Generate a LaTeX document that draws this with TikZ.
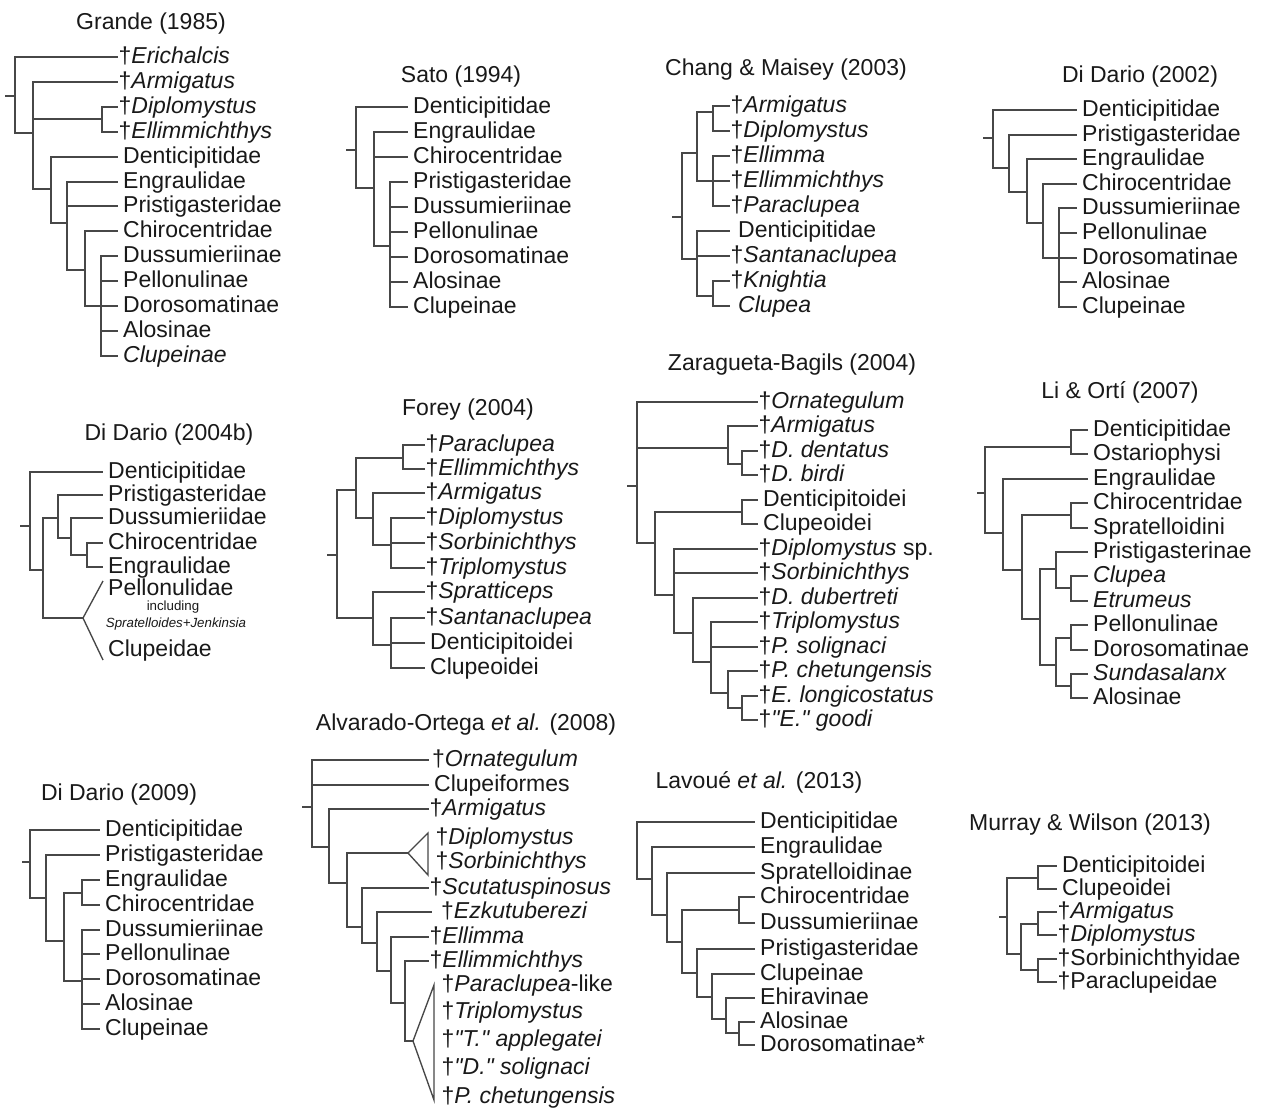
\documentclass[tikz,border=0pt]{standalone}
\usepackage{fontspec}
\setmainfont{Liberation Sans}[Ligatures=TeXOff]
\usetikzlibrary{calc}
\newcommand\lf[4][lf]{\node[#1] (#2) at (#3) {#4};}
\newcommand\kids[2]{\foreach \ch in {#2}{\draw[ln] (#1) |- (\ch);}}
\newcommand\cd[2]{\coordinate (#1) at (#2);}
\newcommand\qd{\symbol{34}}
\begin{document}
\begin{tikzpicture}[x=1pt,y=-1pt,
  every node/.style={text=black!90, font=\fontsize{23}{27}\selectfont},
  lf/.style={anchor=west, inner xsep=0.5pt, inner ysep=0pt, text height=16pt, text depth=4pt},
  lg/.style={lf, inner xsep=5pt},
  lt/.style={lf, inner xsep=0pt},
  tt/.style={inner sep=0pt},
  sm/.style={inner sep=0pt, font=\fontsize{13.3}{15}\selectfont},
  ln/.style={line width=1.35pt, draw=black!72}]
\fill[white] (0,0) rectangle (1267,1109);
\useasboundingbox (0,0) rectangle (1267,1109);

% ---------- Grande (1985)
\node[tt] (t1) at (151,24) {Grande (1985)};
\lf{a1}{118,57}{†\textit{Erichalcis}}
\lf{a2}{118,82}{†\textit{Armigatus}}
\lf{a3}{118,107}{†\textit{Diplomystus}}
\lf{a4}{118,132}{†\textit{Ellimmichthys}}
\lf[lg]{a5}{118,157}{Denticipitidae}
\lf[lg]{a6}{118,182}{Engraulidae}
\lf[lg]{a7}{118,206}{Pristigasteridae}
\lf[lg]{a8}{118,231}{Chirocentridae}
\lf[lg]{a9}{118,256}{Dussumieriinae}
\lf[lg]{a10}{118,281}{Pellonulinae}
\lf[lg]{a11}{118,306}{Dorosomatinae}
\lf[lg]{a12}{118,331}{Alosinae}
\lf[lg]{a13}{118,356}{\textit{Clupeinae}}
\cd{aR}{15,96}\cd{aS}{5,96}\cd{aA}{33,133}\cd{aB}{102,119}\cd{aC}{51,189}\cd{aD}{67,223}\cd{aE}{85,270}\cd{aF}{101,306}
\draw[ln] (aS) -- (aR);
\kids{aR}{a1,aA}\kids{aA}{a2,aB,aC}\kids{aB}{a3,a4}\kids{aC}{a5,aD}\kids{aD}{a6,a7,aE}\kids{aE}{a8,aF}\kids{aF}{a9,a10,a11,a12,a13}

% ---------- Sato (1994)
\node[tt] (t2) at (461,77) {Sato (1994)};
\lf[lg]{b1}{408,107}{Denticipitidae}
\lf[lg]{b2}{408,132}{Engraulidae}
\lf[lg]{b3}{408,157}{Chirocentridae}
\lf[lg]{b4}{408,182}{Pristigasteridae}
\lf[lg]{b5}{408,207}{Dussumieriinae}
\lf[lg]{b6}{408,232}{Pellonulinae}
\lf[lg]{b7}{408,257}{Dorosomatinae}
\lf[lg]{b8}{408,282}{Alosinae}
\lf[lg]{b9}{408,307}{Clupeinae}
\cd{bR}{356,150}\cd{bS}{346,150}\cd{bA}{374,188}\cd{bB}{390,246}
\draw[ln] (bS) -- (bR);
\kids{bR}{b1,bA}\kids{bA}{b2,b3,bB}\kids{bB}{b4,b5,b6,b7,b8,b9}

% ---------- Chang & Maisey (2003)
\node[tt] (t3) at (786,70) {Chang \& Maisey (2003)};
\lf{c1}{730,106}{†\textit{Armigatus}}
\lf{c2}{730,131}{†\textit{Diplomystus}}
\lf{c3}{730,156}{†\textit{Ellimma}}
\lf{c4}{730,181}{†\textit{Ellimmichthys}}
\lf{c5}{730,206}{†\textit{Paraclupea}}
\lf[lg]{c6}{730,231}{\hspace{3pt}Denticipitidae}
\lf{c7}{730,256}{†\textit{Santanaclupea}}
\lf{c8}{730,281}{†\textit{Knightia}}
\lf[lg]{c9}{730,306}{\hspace{3pt}\textit{Clupea}}
\cd{cR}{682,217}\cd{cS}{672,217}\cd{cA}{697,153}\cd{cB}{713,112}\cd{cC}{713,181}\cd{cD}{697,259}\cd{cE}{713,296}
\draw[ln] (cS) -- (cR);
\kids{cR}{cA,cD}\kids{cA}{cB,cC}\kids{cB}{c1,c2}\kids{cC}{c3,c4,c5}\kids{cD}{c6,c7,cE}\kids{cE}{c8,c9}

% ---------- Di Dario (2002)
\node[tt] (t4) at (1140,77) {Di Dario (2002)};
\lf[lg]{d1}{1077,110}{Denticipitidae}
\lf[lg]{d2}{1077,135}{Pristigasteridae}
\lf[lg]{d3}{1077,159}{Engraulidae}
\lf[lg]{d4}{1077,184}{Chirocentridae}
\lf[lg]{d5}{1077,208}{Dussumieriinae}
\lf[lg]{d6}{1077,233}{Pellonulinae}
\lf[lg]{d7}{1077,258}{Dorosomatinae}
\lf[lg]{d8}{1077,282}{Alosinae}
\lf[lg]{d9}{1077,307}{Clupeinae}
\cd{dR}{993,138}\cd{dS}{983,138}\cd{dA}{1009,168}\cd{dB}{1027,192}\cd{dC}{1043,223}\cd{dD}{1059,258}
\draw[ln] (dS) -- (dR);
\kids{dR}{d1,dA}\kids{dA}{d2,dB}\kids{dB}{d3,dC}\kids{dC}{d4,dD}\kids{dD}{d5,d6,d7,d8,d9}

% ---------- Di Dario (2004b)
\node[tt] (t5) at (169,435) {Di Dario (2004b)};
\lf[lg]{e1}{103,472}{Denticipitidae}
\lf[lg]{e2}{103,495}{Pristigasteridae}
\lf[lg]{e3}{103,518}{Dussumieriidae}
\lf[lg]{e4}{103,543}{Chirocentridae}
\lf[lg]{e5}{103,567}{Engraulidae}
\node[lg, text depth=1pt] (e6) at (103,588) {Pellonulidae};
\node[sm] (e7) at (173,607) {including};
\node[sm] (e8) at (176,624) {\textit{Spratelloides+Jenkinsia}};
\lf[lg]{e9}{103,650}{Clupeidae}
\cd{eR}{30,526}\cd{eS}{20,526}\cd{eA}{43,570}\cd{eB}{58,518}\cd{eC}{71,538}\cd{eD}{87,555}
\cd{eT}{83,618}\cd{eT1}{103,581}\cd{eT2}{103,660}
\draw[ln] (eS) -- (eR);
\kids{eR}{e1,eA}\kids{eA}{eB,eT}\kids{eB}{e2,eC}\kids{eC}{e3,eD}\kids{eD}{e4,e5}
\draw[ln] (eT1) -- (eT) -- (eT2);

% ---------- Forey (2004)
\node[tt] (t6) at (468,410) {Forey (2004)};
\lf{f1}{425,445}{†\textit{Paraclupea}}
\lf{f2}{425,469}{†\textit{Ellimmichthys}}
\lf{f3}{425,493}{†\textit{Armigatus}}
\lf{f4}{425,518}{†\textit{Diplomystus}}
\lf{f5}{425,543}{†\textit{Sorbinichthys}}
\lf{f6}{425,568}{†\textit{Triplomystus}}
\lf{f7}{425,592}{†\textit{Spratticeps}}
\lf{f8}{425,618}{†\textit{Santanaclupea}}
\lf[lg]{f9}{425,643}{Denticipitoidei}
\lf[lg]{f10}{425,668}{Clupeoidei}
\cd{fR}{337,555}\cd{fS}{327,555}\cd{fA}{356,490}\cd{fB}{403,458}\cd{fC}{373,518}\cd{fD}{391,545}\cd{fE}{373,618}\cd{fF}{391,645}
\draw[ln] (fS) -- (fR);
\kids{fR}{fA,fE}\kids{fA}{fB,fC}\kids{fB}{f1,f2}\kids{fC}{f3,fD}\kids{fD}{f4,f5,f6}\kids{fE}{f7,fF}\kids{fF}{f8,f9,f10}

% ---------- Zaragueta-Bagils (2004)
\node[tt] (t7) at (792,365) {Zaragueta-Bagils (2004)};
\lf{g1}{758,402}{†\textit{Ornategulum}}
\lf{g2}{758,426}{†\textit{Armigatus}}
\lf{g3}{758,451}{†\textit{D. dentatus}}
\lf{g4}{758,475}{†\textit{D. birdi}}
\lf[lg]{g5}{758,500}{Denticipitoidei}
\lf[lg]{g6}{758,524}{Clupeoidei}
\lf{g7}{758,549}{†\textit{Diplomystus} sp.}
\lf{g8}{758,573}{†\textit{Sorbinichthys}}
\lf{g9}{758,598}{†\textit{D. dubertreti}}
\lf{g10}{758,622}{†\textit{Triplomystus}}
\lf{g11}{758,647}{†\textit{P. solignaci}}
\lf{g12}{758,671}{†\textit{P. chetungensis}}
\lf{g13}{758,696}{†\textit{E. longicostatus}}
\lf{g14}{758,720}{†\textit{\qd E.\qd\ goodi}}
\cd{gR}{637,486}\cd{gS}{627,486}\cd{gA}{728,448}\cd{gB}{742,464}\cd{gC}{655,543}\cd{gD}{742,512}\cd{gE}{674,595}\cd{gF}{693,633}\cd{gG}{711,662}\cd{gH}{728,693}\cd{gI}{742,708}
\draw[ln] (gS) -- (gR);
\kids{gR}{g1,gA,gC}\kids{gA}{g2,gB}\kids{gB}{g3,g4}\kids{gC}{gD,gE}\kids{gD}{g5,g6}\kids{gE}{g7,g8,gF}\kids{gF}{g9,gG}\kids{gG}{g10,g11,gH}\kids{gH}{g12,gI}\kids{gI}{g13,g14}

% ---------- Li & Orti (2007)
\node[tt] (t8) at (1120,392) {Li \& Ortí (2007)};
\lf[lg]{h1}{1088,430}{Denticipitidae}
\lf[lg]{h2}{1088,454}{Ostariophysi}
\lf[lg]{h3}{1088,479}{Engraulidae}
\lf[lg]{h4}{1088,503}{Chirocentridae}
\lf[lg]{h5}{1088,528}{Spratelloidini}
\lf[lg]{h6}{1088,552}{Pristigasterinae}
\lf[lg]{h7}{1088,576}{\textit{Clupea}}
\lf[lg]{h8}{1088,601}{\textit{Etrumeus}}
\lf[lg]{h9}{1088,625}{Pellonulinae}
\lf[lg]{h10}{1088,650}{Dorosomatinae}
\lf[lg]{h11}{1088,674}{\textit{Sundasalanx}}
\lf[lg]{h12}{1088,698}{Alosinae}
\cd{hR}{985,493}\cd{hS}{977,493}\cd{hA}{1071,447}\cd{hB}{1003,533}\cd{hC}{1022,570}\cd{hD}{1071,515}\cd{hE}{1040,619}\cd{hF}{1056,569}\cd{hG}{1071,588}\cd{hH}{1056,665}\cd{hI}{1071,638}\cd{hJ}{1071,686}
\draw[ln] (hS) -- (hR);
\kids{hR}{hA,hB}\kids{hA}{h1,h2}\kids{hB}{h3,hC}\kids{hC}{hD,hE}\kids{hD}{h4,h5}\kids{hE}{hF,hH}\kids{hF}{h6,hG}\kids{hG}{h7,h8}\kids{hH}{hI,hJ}\kids{hI}{h9,h10}\kids{hJ}{h11,h12}

% ---------- Di Dario (2009)
\node[tt] (t9) at (119,795) {Di Dario (2009)};
\lf[lg]{i1}{100,830}{Denticipitidae}
\lf[lg]{i2}{100,855}{Pristigasteridae}
\lf[lg]{i3}{100,880}{Engraulidae}
\lf[lg]{i4}{100,905}{Chirocentridae}
\lf[lg]{i5}{100,930}{Dussumieriinae}
\lf[lg]{i6}{100,954}{Pellonulinae}
\lf[lg]{i7}{100,979}{Dorosomatinae}
\lf[lg]{i8}{100,1004}{Alosinae}
\lf[lg]{i9}{100,1029}{Clupeinae}
\cd{iR}{30,862}\cd{iS}{22,862}\cd{iA}{46,898}\cd{iB}{64,941}\cd{iC}{82,893}\cd{iD}{82,981}
\draw[ln] (iS) -- (iR);
\kids{iR}{i1,iA}\kids{iA}{i2,iB}\kids{iB}{iC,iD}\kids{iC}{i3,i4}\kids{iD}{i5,i6,i7,i8,i9}

% ---------- Alvarado-Ortega et al. (2008)
\node[tt] (t10) at (466,725) {Alvarado-Ortega \textit{et al.} (2008)};
\lf[lt]{j1}{429,760}{\hspace{3pt}†\textit{Ornategulum}}
\lf[lg]{j2}{429,785}{Clupeiformes}
\lf{j3}{429,809}{†\textit{Armigatus}}
\node[lf] (j4) at (435,838) {†\textit{Diplomystus}};
\node[lf] (j5) at (435,862) {†\textit{Sorbinichthys}};
\lf{j6}{429,888}{†\textit{Scutatuspinosus}}
\lf[lt]{j7}{432,912}{\hspace{9pt}†\textit{Ezkutuberezi}}
\lf{j8}{429,937}{†\textit{Ellimma}}
\lf{j9}{429,961}{†\textit{Ellimmichthys}}
\node[lf] (j10) at (441,985) {†\textit{Paraclupea}-like};
\node[lf] (j11) at (441,1012) {†\textit{Triplomystus}};
\node[lf] (j12) at (441,1040) {†\textit{\qd T.\qd\ applegatei}};
\node[lf] (j13) at (441,1068) {†\textit{\qd D.\qd\ solignaci}};
\node[lf] (j14) at (441,1097) {†\textit{P. chetungensis}};
\cd{jR}{312,807}\cd{jS}{302,807}\cd{jA}{329,847}\cd{jB}{347,883}\cd{jC}{362,927}\cd{jD}{377,943}\cd{jE}{391,971}\cd{jF}{405,1003}
\cd{jT}{408,853}\cd{jT1}{428,833}\cd{jT2}{428,875}
\cd{jU}{413,1041}\cd{jU1}{434,985}\cd{jU2}{434,1100}
\draw[ln] (jS) -- (jR);
\kids{jR}{j1,j2,jA}\kids{jA}{j3,jB}\kids{jB}{jT,jC}\kids{jC}{j6,jD}\kids{jD}{j7,jE}\kids{jE}{j8,jF}\kids{jF}{j9,jU}
\draw[ln] (jT1) -- (jT) -- (jT2) -- cycle;
\draw[ln] (jU1) -- (jU) -- (jU2) -- cycle;

% ---------- Lavoue et al. (2013)
\node[tt] (t11) at (759,782) {Lavoué \textit{et al.} (2013)};
\lf[lg]{k1}{755,822}{Denticipitidae}
\lf[lg]{k2}{755,847}{Engraulidae}
\lf[lg]{k3}{755,873}{Spratelloidinae}
\lf[lg]{k4}{755,897}{Chirocentridae}
\lf[lg]{k5}{755,923}{Dussumieriinae}
\lf[lg]{k6}{755,949}{Pristigasteridae}
\lf[lg]{k7}{755,974}{Clupeinae}
\lf[lg]{k8}{755,998}{Ehiravinae}
\lf[lg]{k9}{755,1022}{Alosinae}
\lf[lg]{k10}{755,1045}{Dorosomatinae*}
\cd{kR}{637,850}\cd{kA}{652,879}\cd{kB}{667,915}\cd{kC}{682,942}\cd{kD}{739,910}\cd{kE}{697,973}\cd{kF}{712,997}\cd{kG}{726,1019}\cd{kH}{739,1033}
\kids{kR}{k1,kA}\kids{kA}{k2,kB}\kids{kB}{k3,kC}\kids{kC}{kD,kE}\kids{kD}{k4,k5}\kids{kE}{k6,kF}\kids{kF}{k7,kG}\kids{kG}{k8,kH}\kids{kH}{k9,k10}

% ---------- Murray & Wilson (2013)
\node[tt] (t12) at (1090,825) {Murray \& Wilson (2013)};
\lf[lg]{m1}{1057,866}{Denticipitoidei}
\lf[lg]{m2}{1057,889}{Clupeoidei}
\lf{m3}{1057,912}{†\textit{Armigatus}}
\lf{m4}{1057,935}{†\textit{Diplomystus}}
\lf{m5}{1057,959}{†Sorbinichthyidae}
\lf{m6}{1057,982}{†Paraclupeidae}
\cd{mR}{1007,917}\cd{mS}{999,917}\cd{mA}{1038,878}\cd{mB}{1021,954}\cd{mC}{1038,924}\cd{mD}{1038,970}
\draw[ln] (mS) -- (mR);
\kids{mR}{mA,mB}\kids{mA}{m1,m2}\kids{mB}{mC,mD}\kids{mC}{m3,m4}\kids{mD}{m5,m6}
\end{tikzpicture}
\end{document}
